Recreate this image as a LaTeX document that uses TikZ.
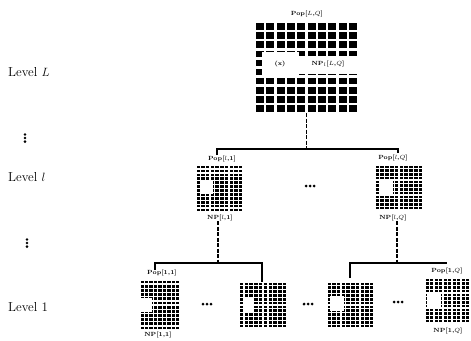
\documentclass[tikz,border=0pt]{standalone}
\usetikzlibrary{calc}
\newcommand{\cellgrid}[7]{%
  \foreach \i in {1,...,#2}{\foreach \j in {1,...,#3}{
    \fill ($(#1.north west)+({(\i-1)*#4+0.5*(#4-#6)},{(\j-1)*#5+0.5*(#5-#7)})$) rectangle ++(#6,#7);
  }}}
\newcommand{\vdotmark}[1]{%
  \foreach \k in {-1,0,1}{\fill ($(#1)+(0,3.6*\k)$) circle (1.4);}}
\newcommand{\hdotmark}[1]{%
  \foreach \k in {-1,0,1}{\fill ($(#1)+(4*\k,0)$) circle (1.5);}}
\begin{document}
\begin{tikzpicture}[x=1pt,y=-1pt,
  gbox/.style={rectangle,inner sep=0pt,outer sep=0pt},
  lvl/.style={inner sep=0pt,font=\fontsize{13}{15}\selectfont},
  tag/.style={inner sep=0pt,font=\fontsize{6}{7}\selectfont\bfseries},
  conn/.style={line width=1.5pt},
  dconn/.style={line width=1.6pt,dash pattern=on 4pt off 1.5pt}]
\useasboundingbox (0,0) rectangle (471,340);
% level labels
\node[lvl,anchor=west] (lL) at (8,72) {Level $L$};
\coordinate (v1) at (25,138);
\vdotmark{v1}
\node[lvl,anchor=west] (ll) at (8,177) {Level $l$};
\coordinate (v2) at (27,243);
\vdotmark{v2}
\node[lvl,anchor=west] (l1) at (8,307) {Level 1};
% top grid
\node[gbox,minimum width=103pt,minimum height=91pt] (gL) at (306.5,67.5) {};
\cellgrid{gL}{10}{10}{10.3}{9.1}{8}{6.6}
\fill[white] (262,52) rectangle (299,78);
\fill[white] (297,56) rectangle (358,74);
\node[tag] (xL) at (280,64) {(x)};
\node[tag] (npL) at (328,64) {NP$_l$[$L$,$Q$]};
\node[tag] (popL) at (307,14) {Pop[$L$,$Q$]};
% middle grids
\node[gbox,minimum width=47pt,minimum height=47pt] (gm1) at (219.5,188.5) {};
\cellgrid{gm1}{10}{12}{4.7}{3.92}{3.4}{2.6}
\fill[white] (200,180) rectangle (213,194);
\node[gbox,minimum width=48pt,minimum height=45pt] (gm2) at (399,187.5) {};
\cellgrid{gm2}{10}{12}{4.8}{3.75}{3.5}{2.5}
\fill[white] (379,180) rectangle (393,195);
\node[tag] (popm1) at (222,159) {Pop[$l$,1]};
\node[tag] (npm1) at (220,218) {NP[$l$,1]};
\node[tag] (popm2) at (393,158) {Pop[$l$,$Q$]};
\node[tag] (npm2) at (393,218) {NP[$l$,$Q$]};
\coordinate (dm) at (310,186);
\hdotmark{dm}
% level 1 grids
\node[gbox,minimum width=40pt,minimum height=50pt] (g1) at (160,305) {};
\cellgrid{g1}{9}{12}{4.45}{4.17}{3.3}{2.8}
\fill[white] (141,298) rectangle (152,312);
\node[gbox,minimum width=48pt,minimum height=46pt] (g2) at (263,305) {};
\cellgrid{g2}{10}{12}{4.8}{3.83}{3.4}{2.6}
\fill[white] (243,298) rectangle (254,312);
\node[gbox,minimum width=47pt,minimum height=46pt] (g3) at (350.5,305) {};
\cellgrid{g3}{10}{12}{4.7}{3.83}{3.4}{2.6}
\fill[white] (330,296) rectangle (344,311);
\node[gbox,minimum width=45pt,minimum height=45pt] (g4) at (447.5,300.5) {};
\cellgrid{g4}{10}{12}{4.5}{3.75}{3.3}{2.5}
\fill[white] (427,293) rectangle (441,307);
\node[tag] (pop1) at (162,273) {Pop[1,1]};
\node[tag] (np1) at (158,335) {NP[1,1]};
\node[tag] (pop4) at (447,271) {Pop[1,$Q$]};
\node[tag] (np4) at (448,331) {NP[1,$Q$]};
\coordinate (d1) at (207,304);
\hdotmark{d1}
\coordinate (d2) at (308,304);
\hdotmark{d2}
\coordinate (d3) at (398,302);
\hdotmark{d3}
% connectors
\coordinate (hL) at (306.5,149);
\coordinate (hl) at (217,149);
\coordinate (hr) at (398,149);
\coordinate (hld) at (217,155);
\coordinate (hrd) at (398,153);
\draw[dconn] (gL.south) -- (hL);
\draw[conn] (hld) -- (hl) -- (hr) -- (hrd);
\coordinate (b1) at (218,263);
\coordinate (b2) at (397,263);
\draw[dconn] (npm1.south -| b1) -- (b1);
\draw[dconn] (npm2.south -| b2) -- (b2);
\coordinate (c1) at (155,263);
\coordinate (c1d) at (155,270);
\coordinate (c2) at (262,263);
\coordinate (c3) at (350,263);
\coordinate (c4) at (447,263);
\draw[conn] (c1d) -- (c1) -- (c2) -- (g2.north -| c2);
\draw[conn] ([yshift=4pt]g3.north -| c3) -- (c3) -- (c4);
\end{tikzpicture}
\end{document}
